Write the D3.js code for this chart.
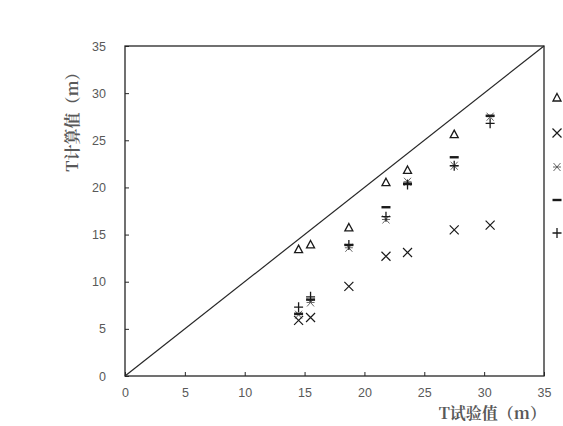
<!DOCTYPE html>
<html><head><meta charset="utf-8">
<script src="https://cdn.jsdelivr.net/npm/d3@7"></script>
<style>body{margin:0;background:#fff}svg{display:block}</style>
</head><body>
<script>
const testValues = [14.5, 15.5, 18.7, 21.8, 23.6, 27.5, 30.5];
const seriesTriangle = [13.4, 13.9, 15.7, 20.5, 21.8, 25.6, null];
const seriesCross    = [5.9, 6.2, 9.5, 12.7, 13.1, 15.5, 16.0];
const seriesStar     = [6.5, 7.8, 13.6, 16.6, 20.6, 22.3, 27.5];
const seriesDash     = [6.6, 8.1, 13.9, 17.9, 20.4, 23.2, 27.6];
const seriesPlus     = [7.3, 8.4, 13.9, 16.9, 20.3, 22.3, 26.8];
const tickValues = [0, 5, 10, 15, 20, 25, 30, 35];

const W = 563, H = 426;
const m = {left:125, top:46, right:544, bottom:376};
const svg = d3.select("body").append("svg").attr("width", W).attr("height", H);
const x = d3.scaleLinear().domain([0,35]).range([m.left, m.right]);
const y = d3.scaleLinear().domain([0,35]).range([m.bottom, m.top]);
const gray = "#595959";

const xAxis = d3.axisBottom(x).tickValues(tickValues).tickSizeInner(-4).tickSizeOuter(0).tickPadding(12);
const yAxis = d3.axisLeft(y).tickValues(tickValues).tickSizeInner(-4).tickSizeOuter(0).tickPadding(19);
const gx = svg.append("g").attr("transform", `translate(0,${m.bottom})`).call(xAxis);
const gy = svg.append("g").attr("transform", `translate(${m.left},0)`).call(yAxis);
[gx, gy].forEach(g => {
  g.select(".domain").remove();
  g.selectAll(".tick line").attr("stroke", "#262626").attr("stroke-width", 1);
  g.selectAll(".tick text").attr("fill", gray).attr("font-family", "Liberation Sans, Arial, sans-serif").attr("font-size", 12.5);
});
svg.append("rect").attr("x", m.left).attr("y", m.top)
  .attr("width", m.right - m.left).attr("height", m.bottom - m.top)
  .attr("fill", "none").attr("stroke", "#262626").attr("stroke-width", 1.3);

svg.append("line").attr("x1", x(0)).attr("y1", y(0)).attr("x2", x(35)).attr("y2", y(35))
  .attr("stroke", "#262626").attr("stroke-width", 1.2);

const ink = "#1a1a1a";
function drawMarker(g, type) {
  if (type === "tri") {
    g.append("path").attr("d", "M0,-4.5L4,3L-4,3Z").attr("fill", "none").attr("stroke", ink).attr("stroke-width", 1.3);
  } else if (type === "cross") {
    g.append("path").attr("d", "M-4.5,-4.5L4.5,4.5M-4.5,4.5L4.5,-4.5").attr("stroke", ink).attr("stroke-width", 1.2);
  } else if (type === "star") {
    g.append("path").attr("d", "M-3.5,-4L3.5,4M-3.5,4L3.5,-4M-4,0L4,0").attr("stroke", "#555").attr("stroke-width", 0.9);
  } else if (type === "dash") {
    g.append("path").attr("d", "M-4.5,0L4.5,0").attr("stroke", ink).attr("stroke-width", 2.4);
  } else if (type === "plus") {
    g.append("path").attr("d", "M-4.5,0L4.5,0M0,-5L0,5").attr("stroke", ink).attr("stroke-width", 1.3);
  }
}
const series = [
  {type:"tri", vals:seriesTriangle},
  {type:"cross", vals:seriesCross},
  {type:"star", vals:seriesStar},
  {type:"dash", vals:seriesDash},
  {type:"plus", vals:seriesPlus}
];
const drawOrder = [2, 1, 0, 3, 4];
drawOrder.forEach(k => {
  const s = series[k];
  s.vals.forEach((v, i) => {
    if (v == null) return;
    const g = svg.append("g").attr("transform", `translate(${x(testValues[i])},${y(v)})`);
    drawMarker(g, s.type);
  });
});

const legendY = [98, 133, 167, 200, 233];
series.forEach((s, i) => {
  const g = svg.append("g").attr("transform", `translate(557,${legendY[i]})`);
  drawMarker(g, s.type);
});

svg.append("text").attr("transform", "translate(78,118) rotate(-90)")
  .attr("text-anchor", "middle").attr("fill", gray).attr("font-weight", "bold")
  .attr("font-family", "Noto Serif CJK SC, Noto Sans CJK SC, serif").attr("font-size", 16)
  .text("T计算值（m）");
svg.append("text").attr("x", 546).attr("y", 419)
  .attr("text-anchor", "end").attr("fill", gray).attr("font-weight", "bold")
  .attr("font-family", "Noto Serif CJK SC, Noto Sans CJK SC, serif").attr("font-size", 16)
  .text("T试验值（m）");
</script>
</body></html>
